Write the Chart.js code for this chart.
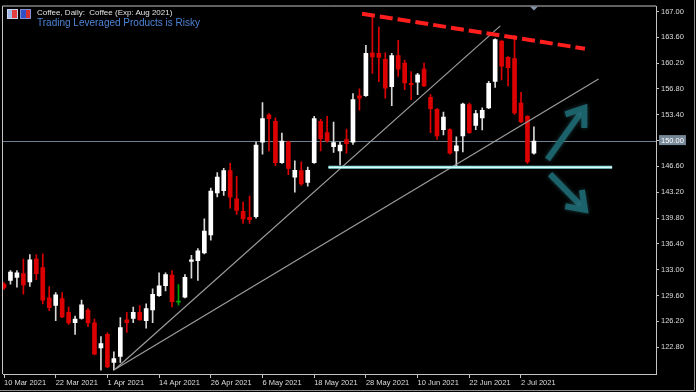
<!DOCTYPE html>
<html>
<head>
<meta charset="utf-8">
<script src="https://cdn.jsdelivr.net/npm/chart.js@4.4.1/dist/chart.umd.min.js"></script>
<style>
  html, body { margin: 0; padding: 0; background: #000; overflow: hidden; }
  #wrap { position: relative; width: 696px; height: 392px; }
  #chart { display: block; }
  .hdr { position: absolute; left: 37px; font-family: "Liberation Sans", Arial, sans-serif; white-space: nowrap; }
  #sym { top: 8px; font-size: 8px; line-height: 10px; color: #e4e4e4; }
  #risk { top: 17px; font-size: 10px; line-height: 12px; color: #4c84d6; }
  .ico { position: absolute; top: 9px; width: 9px; height: 8px; }
  #ico1 { left: 7px; background: linear-gradient(90deg, #9fb8e8 0 45%, #e04040 45% 100%); border: 1px solid #c8d4f0; }
  #ico2 { left: 20px; background: linear-gradient(90deg, #3050c8 0 55%, #d83030 55% 100%); border: 1px solid #8090d0; }
</style>
</head>
<body>
<div id="wrap">
  <canvas id="chart" width="696" height="392"></canvas>
  <div class="ico" id="ico1"></div>
  <div class="ico" id="ico2"></div>
  <div class="hdr" id="sym">Coffee, Daily:&nbsp; Coffee (Exp: Aug 2021)</div>
  <div class="hdr" id="risk">Trading Leveraged Products is Risky</div>
</div>
<script>
  // bar index -> tick labels (one label every 8 trading days)
  const xTickIndex = [0, 8, 16, 24, 32, 40, 48, 56, 64, 72, 80];
  const xTickLabels = ['10 Mar 2021', '22 Mar 2021', '1 Apr 2021', '14 Apr 2021', '26 Apr 2021', '6 May 2021',
    '18 May 2021', '28 May 2021', '10 Jun 2021', '22 Jun 2021', '2 Jul 2021'];
  const yTicks = [167.00, 163.60, 160.20, 156.80, 153.40, 150.00, 146.60, 143.20, 139.80, 136.40, 133.00, 129.60, 126.20, 122.80];

  const open = [
    131.1, 131.6, 132.0, 132.5, 131.4, 134.4, 133.3, 129.3, 128.3, 129.2,
    127.4, 126.05, 126.6, 127.7, 126.0, 122.7, 124.5, 120.8, 121.6, 126.4,
    126.6, 127.4, 126.3, 127.7, 129.6, 130.9, 132.3, 128.75, 129.4, 134.1,
    134.2, 135.2, 137.6, 143.1, 143.4, 146.05, 142.35, 140.7, 139.9, 140.0,
    149.8, 153.4, 152.55, 147.1, 149.8, 145.2, 146.05, 144.5, 147.1, 152.55,
    151.05, 149.2, 148.65, 150.15, 149.8, 155.9, 155.9, 161.55, 161.5, 160.7,
    157.1, 161.2, 160.2, 157.55, 157.7, 159.4, 155.7, 154.1, 151.45, 151.45,
    148.65, 150.6, 154.75, 152.0, 153.0, 154.3, 157.8, 163.1, 160.95, 160.8,
    154.95, 153.2, 148.35];
  const high = [
    131.3, 132.9, 132.9, 134.4, 135.0, 135.0, 135.1, 130.8, 130.0, 130.0,
    128.1, 126.9, 129.0, 127.9, 126.5, 124.2, 124.7, 122.2, 126.7, 127.4,
    128.1, 128.3, 128.5, 130.5, 132.6, 132.6, 132.9, 131.05, 132.35, 134.9,
    135.8, 139.7, 143.75, 145.8, 146.35, 147.0, 145.3, 141.9, 142.7, 149.8,
    155.0, 153.55, 153.0, 151.0, 149.95, 147.35, 147.2, 146.5, 153.2, 152.8,
    153.2, 152.45, 149.8, 151.5, 156.2, 156.8, 162.55, 166.25, 164.95, 161.55,
    161.5, 163.2, 160.6, 159.1, 158.85, 160.2, 156.05, 154.2, 153.75, 151.55,
    150.5, 154.95, 154.95, 154.0, 154.3, 157.8, 163.4, 163.15, 161.05, 163.85,
    156.35, 153.3, 151.8];
  const low = [
    130.4, 131.1, 130.7, 129.8, 130.8, 131.7, 128.5, 127.6, 126.3, 126.7,
    125.8, 124.5, 126.5, 125.5, 121.8, 119.8, 120.1, 119.8, 120.8, 124.75,
    126.05, 126.35, 125.3, 126.05, 129.5, 130.2, 128.1, 128.35, 129.3, 131.9,
    131.6, 135.1, 136.9, 142.6, 142.8, 141.1, 140.3, 139.1, 139.1, 139.8,
    148.2, 148.65, 146.7, 147.0, 145.5, 143.2, 144.1, 144.0, 147.0, 148.65,
    149.8, 148.45, 146.8, 148.35, 149.5, 154.0, 155.8, 158.85, 157.75, 155.6,
    154.6, 158.45, 156.7, 155.4, 156.05, 157.1, 151.05, 150.15, 150.75, 148.2,
    146.6, 148.5, 150.95, 151.45, 151.4, 154.2, 157.0, 158.0, 157.2, 153.45,
    152.35, 147.0, 148.2];
  const close = [
    130.6, 132.7, 132.6, 131.0, 134.3, 132.5, 129.0, 128.0, 129.7, 126.8,
    126.0, 126.5, 128.4, 126.0, 121.9, 123.3, 120.2, 121.3, 125.4, 126.05,
    127.4, 126.4, 127.9, 129.75, 130.9, 132.35, 128.8, 128.75, 132.0, 134.3,
    135.5, 138.1, 143.35, 145.2, 146.05, 142.55, 140.8, 139.7, 139.6, 149.4,
    152.9, 152.9, 147.1, 149.95, 146.35, 146.1, 144.3, 146.1, 152.9, 150.25,
    149.95, 149.75, 149.4, 149.6, 155.4, 155.6, 161.5, 161.0, 160.95, 156.9,
    161.2, 159.4, 157.6, 157.35, 158.65, 157.2, 154.2, 150.6, 153.1, 148.35,
    149.3, 154.8, 151.05, 153.55, 154.0, 157.55, 163.3, 159.8, 159.6, 153.65,
    152.45, 147.2, 149.95];

  const bidPrice = 150.00;
  // drawn objects, [bar index, price]
  const resistLine = [[55.4, 166.7], [89.9, 162.1]];
  const fanLine1 = [[17.2, 119.9], [76.8, 165.1]];
  const fanLine2 = [[17.2, 119.9], [92.0, 158.1]];
  const supportLine = [[50.2, 146.48], [94.1, 146.48]];
  const arrowUp = [[84.1, 147.5], [89.8, 154.3]];
  const arrowDown = [[84.5, 145.6], [89.9, 140.9]];

  const BULL = '#ffffff', BEAR = '#dc0000', DOJI = '#00a000';
  function candleColor(i) {
    if (close[i] > open[i]) return BULL;
    if (close[i] < open[i]) return BEAR;
    return DOJI;
  }
  function wickColor(i) {
    const c = candleColor(i);
    return c === BULL ? '#d8d8d8' : c;
  }

  const idx = open.map((_, i) => i);
  const toPts = (arr) => arr.map(p => ({ x: p[0], y: p[1] }));

  const framePlugin = {
    id: 'frame',
    beforeDatasetsDraw(chart) {
      const { ctx, chartArea: a, scales: { y } } = chart;
      const py = Math.round(y.getPixelForValue(bidPrice)) + 0.5;
      ctx.save();
      ctx.strokeStyle = '#6f8092';
      ctx.lineWidth = 1;
      ctx.beginPath();
      ctx.moveTo(a.left, py);
      ctx.lineTo(a.right, py);
      ctx.stroke();
      ctx.restore();
    },
    afterDatasetsDraw(chart) {
      const { ctx, chartArea: a, scales: { x, y } } = chart;
      ctx.save();
      ctx.beginPath();
      ctx.rect(a.left, a.top, a.right - a.left, a.bottom - a.top);
      ctx.clip();
      // teal arrows
      [arrowUp, arrowDown].forEach(ar => {
        const x0 = x.getPixelForValue(ar[0][0]), y0 = y.getPixelForValue(ar[0][1]);
        const x1 = x.getPixelForValue(ar[1][0]), y1 = y.getPixelForValue(ar[1][1]);
        const ang = Math.atan2(y1 - y0, x1 - x0);
        const len = 20, spread = 0.62;
        ctx.strokeStyle = '#1b626b';
        ctx.lineWidth = 6;
        ctx.lineCap = 'butt';
        ctx.lineJoin = 'miter';
        ctx.shadowColor = 'rgba(70,140,150,0.45)';
        ctx.shadowBlur = 4;
        ctx.beginPath();
        ctx.moveTo(x0, y0);
        ctx.lineTo(x1 - 3 * Math.cos(ang), y1 - 3 * Math.sin(ang));
        ctx.stroke();
        ctx.beginPath();
        ctx.moveTo(x1 - len * Math.cos(ang - spread), y1 - len * Math.sin(ang - spread));
        ctx.lineTo(x1, y1);
        ctx.lineTo(x1 - len * Math.cos(ang + spread), y1 - len * Math.sin(ang + spread));
        ctx.stroke();
      });
      ctx.restore();
    },
    afterDraw(chart) {
      const { ctx, chartArea: a, scales: { x } } = chart;
      ctx.save();
      ctx.strokeStyle = '#c4c4c4';
      ctx.lineWidth = 1;
      ctx.beginPath();
      ctx.moveTo(a.left - 0.5, a.bottom);
      ctx.lineTo(a.left - 0.5, a.top - 0.5);
      ctx.lineTo(a.right, a.top - 0.5);
      ctx.stroke();
      // outer window frame
      ctx.strokeStyle = '#8c8c8c';
      ctx.beginPath();
      ctx.moveTo(694.5, 0);
      ctx.lineTo(694.5, 390.5);
      ctx.lineTo(0, 390.5);
      ctx.stroke();
      // chart shift marker
      const sx = x.getPixelForValue(open.length - 1);
      ctx.fillStyle = '#8494aa';
      ctx.beginPath();
      ctx.moveTo(sx - 4, a.top);
      ctx.lineTo(sx + 4, a.top);
      ctx.lineTo(sx, a.top + 4);
      ctx.closePath();
      ctx.fill();
      ctx.restore();
    }
  };

  const lineDs = (pts, color, width, dash, order) => ({
    type: 'line',
    data: toPts(pts),
    borderColor: color,
    borderWidth: width,
    borderDash: dash || [],
    pointRadius: 0,
    fill: false,
    order: order
  });

  new Chart(document.getElementById('chart'), {
    type: 'bar',
    data: {
      datasets: [
        lineDs(resistLine, '#ff1e1e', 4, [13, 5], 0),
        lineDs(supportLine, '#e6ffff', 1, null, 0),
        lineDs(supportLine, '#8fdede', 3, null, 1),
        lineDs(fanLine1, '#9c9c9c', 1.2, null, 1),
        lineDs(fanLine2, '#9c9c9c', 1.2, null, 1),
        {
          label: 'body',
          data: idx.map(i => ({ x: i, y: [open[i], close[i]] })),
          backgroundColor: idx.map(candleColor),
          barThickness: 4,
          minBarLength: 1,
          grouped: false,
          order: 2
        },
        {
          label: 'wick',
          data: idx.map(i => ({ x: i, y: [low[i], high[i]] })),
          backgroundColor: idx.map(wickColor),
          barThickness: 1,
          grouped: false,
          order: 3
        }
      ]
    },
    options: {
      responsive: false,
      animation: false,
      layout: { padding: { left: 3, top: 3, right: 0, bottom: 0 } },
      plugins: { legend: { display: false }, tooltip: { enabled: false } },
      scales: {
        x: {
          type: 'linear',
          offset: false,
          min: -0.155,
          max: 100.89,
          afterBuildTicks(s) { s.ticks = xTickIndex.map(v => ({ value: v })); },
          afterFit(s) { s.height = 18; },
          grid: { drawOnChartArea: false, offset: false, tickLength: 4, color: '#c4c4c4' },
          border: { display: true, color: '#c4c4c4' },
          ticks: {
            autoSkip: false,
            maxRotation: 0,
            align: 'start',
            padding: 0,
            color: '#dcdcdc',
            font: { family: 'Liberation Sans', size: 7.5 },
            callback(v) {
              const k = xTickIndex.indexOf(v);
              return k >= 0 ? xTickLabels[k] : '';
            }
          }
        },
        y: {
          position: 'right',
          min: 119.28,
          max: 167.65,
          afterBuildTicks(s) { s.ticks = yTicks.map(v => ({ value: v })); },
          afterFit(s) { s.width = 40; },
          grid: { drawOnChartArea: false, tickLength: 3, color: '#c4c4c4' },
          border: { display: true, color: '#c4c4c4' },
          ticks: {
            padding: 2,
            color: (c) => (c.tick && c.tick.value === bidPrice ? '#ffffff' : '#dcdcdc'),
            showLabelBackdrop: true,
            backdropColor: (c) => (c.tick && c.tick.value === bidPrice ? '#778899' : 'rgba(0,0,0,0)'),
            backdropPadding: { left: 2, right: 2, top: 1, bottom: 0 },
            font: { family: 'Liberation Sans', size: 7.5 },
            callback: (v) => v.toFixed(2)
          }
        }
      }
    },
    plugins: [framePlugin]
  });
</script>
</body>
</html>
